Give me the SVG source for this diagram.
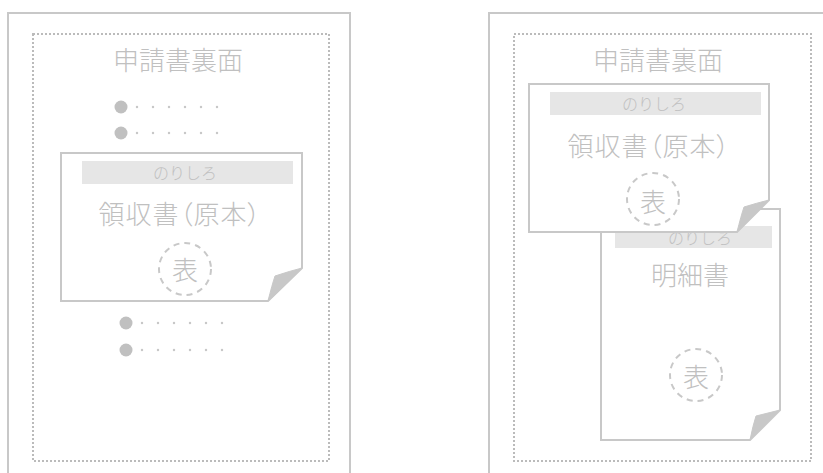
<svg xmlns="http://www.w3.org/2000/svg" width="823" height="473" viewBox="0 0 823 473">
<style>
.outer{fill:#fff;stroke:#c8c8c8;stroke-width:2}
.dotted{fill:none;stroke:#bbbbbb;stroke-width:2;stroke-dasharray:2 2}
.doc{fill:#fff;stroke:#c8c8c8;stroke-width:2}
.fold{fill:#c8c8c8;stroke:#c8c8c8;stroke-width:1;stroke-linejoin:round}
.bar{fill:#e6e6e6}
.stamp{fill:none;stroke:#c8c8c8;stroke-width:2;stroke-dasharray:6 5}
.t{font-family:"Noto Sans CJK JP","Noto Sans",sans-serif;font-weight:300;fill:#c0c0c0;text-anchor:middle;dominant-baseline:central}
.big{font-size:26px}
.mid{font-size:26px;font-feature-settings:"palt" 1;letter-spacing:1px}
.small{font-size:16px}
.bullet{fill:#c0c0c0}
.dots{fill:none;stroke:#c8c8c8;stroke-width:2.4;stroke-linecap:round;stroke-dasharray:0 16}
</style>

<g id="left-panel">
  <rect class="outer" x="8" y="13" width="342" height="480"/>
  <rect class="dotted" x="33" y="34" width="296" height="427"/>
  <text class="t big" x="178" y="58">申請書裏面</text>
  <g id="left-bullets-top">
    <circle class="bullet" cx="121" cy="107" r="6.5"/>
    <line class="dots" x1="137" y1="107" x2="218" y2="107"/>
    <circle class="bullet" cx="121" cy="133" r="6.5"/>
    <line class="dots" x1="137" y1="133" x2="218" y2="133"/>
  </g>
  <g id="left-bullets-bottom">
    <circle class="bullet" cx="126" cy="323" r="6.5"/>
    <line class="dots" x1="142" y1="323" x2="223" y2="323"/>
    <circle class="bullet" cx="126" cy="350" r="6.5"/>
    <line class="dots" x1="142" y1="350" x2="223" y2="350"/>
  </g>
</g>

<g id="left-receipt">
  <path class="doc" d="M61,153 H302 V268 L268,301 H61 Z"/>
  <path class="fold" d="M268,301 Q272,285 275,276 Q290,271 302,268 Z"/>
  <rect class="bar" x="82" y="161" width="211" height="23"/>
  <text class="t small" x="185" y="172">のりしろ</text>
  <text class="t mid" x="180" y="212">領収書（原本）</text>
  <circle class="stamp" cx="185" cy="269" r="26"/>
  <text class="t big" x="185" y="268">表</text>
</g>

<g id="right-panel">
  <rect class="outer" x="489" y="13" width="360" height="480"/>
  <rect class="dotted" x="514" y="34" width="297" height="427"/>
  <text class="t big" x="658" y="58">申請書裏面</text>
</g>

<g id="right-statement">
  <path class="doc" d="M601,209 H780 V410 L750,440 H601 Z"/>
  <path class="fold" d="M750,440 Q753,425 756,416 Q768,413 780,410 Z"/>
  <rect class="bar" x="615" y="226" width="157" height="22"/>
  <text class="t small" x="700" y="237">のりしろ</text>
  <text class="t big" x="690" y="273">明細書</text>
  <circle class="stamp" cx="696" cy="375" r="26"/>
  <text class="t big" x="696" y="375">表</text>
</g>

<g id="right-receipt">
  <path class="doc" d="M529,84 H769 V200 L737,232 H529 Z"/>
  <path class="fold" d="M737,232 Q741,216 744,207 Q757,203 769,200 Z"/>
  <rect class="bar" x="550" y="92" width="211" height="23"/>
  <text class="t small" x="654" y="103">のりしろ</text>
  <text class="t mid" x="649" y="144">領収書（原本）</text>
  <circle class="stamp" cx="653" cy="199" r="26"/>
  <text class="t big" x="653" y="200">表</text>
</g>

<g id="connectors"/>
</svg>
